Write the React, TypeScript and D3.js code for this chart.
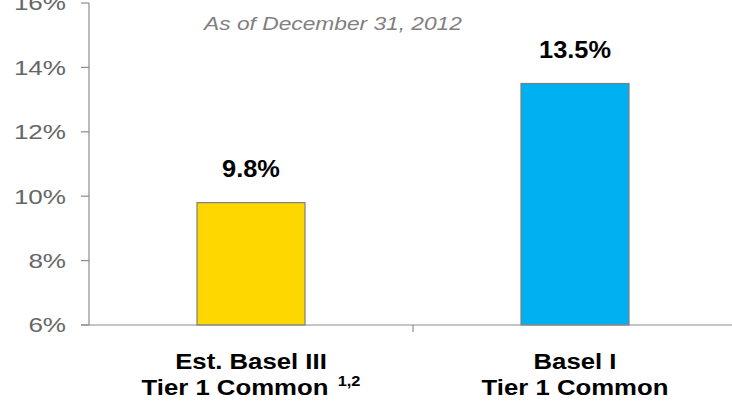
import React from "react";
import * as d3 from "d3";

const categories = ["Est. Basel III|Tier 1 Common", "Basel I|Tier 1 Common"];
const superscripts = ["1,2", ""];
const values = [9.8, 13.5];
const valueLabels = ["9.8%", "13.5%"];
const barColors = ["#FFD700", "#00B0F0"];
const yTicks = [6, 8, 10, 12, 14, 16];
const subtitle = "As of December 31, 2012";

const W = 732;
const H = 402;
const left = 89;
const right = 737;
const top = 3;
const bottom = 325;

// Text placed at (x, y) with a slight horizontal widening
function WideText({ x, y, sx, children, ...rest }: any) {
  return (
    <text transform={`translate(${x},${y}) scale(${sx},1)`} {...rest}>
      {children}
    </text>
  );
}

export default function App() {
  const y = d3.scaleLinear().domain([6, 16]).range([bottom, top]);
  const x = d3.scaleBand<number>().domain(d3.range(categories.length)).range([left, right]).padding(0);
  const barW = x.bandwidth() / 3;
  const font = "'Liberation Sans', Arial, sans-serif";
  const axisColor = "#8c8c8c";

  return (
    <svg width={W} height={H} style={{ position: "absolute", left: 0, top: 0 }} fontFamily={font}>
      <rect width={W} height={H} fill="#fff" />
      {/* y axis */}
      <line x1={left} x2={left} y1={top} y2={bottom} stroke={axisColor} strokeWidth={1.2} />
      {yTicks.map((t) => (
        <g key={t}>
          <line x1={left - 8} x2={left} y1={y(t)} y2={y(t)} stroke={axisColor} strokeWidth={1.2} />
          <WideText x={66} y={y(t) + 7.4} sx={1.27} textAnchor="end" fontSize={20.5} fill="#666">
            {t}%
          </WideText>
        </g>
      ))}
      {/* bars */}
      {values.map((v, i) => {
        const cx = (x(i) as number) + x.bandwidth() / 2;
        return (
          <g key={i}>
            <rect
              x={cx - barW / 2}
              y={y(v)}
              width={barW}
              height={bottom - y(v)}
              fill={barColors[i]}
              stroke="#7f7f7f"
              strokeWidth={1.2}
            />
            <WideText x={cx} y={y(v) - 26} sx={1.08} textAnchor="middle" fontSize={23.5} fontWeight="bold" fill="#000">
              {valueLabels[i]}
            </WideText>
          </g>
        );
      })}
      {/* x axis */}
      <line x1={left - 8} x2={right} y1={bottom} y2={bottom} stroke={axisColor} strokeWidth={1.2} />
      <line x1={x(1) as number} x2={x(1) as number} y1={bottom} y2={bottom + 7} stroke={axisColor} strokeWidth={1.2} />
      {categories.map((c, i) => {
        const cx = (x(i) as number) + x.bandwidth() / 2;
        const [l1, l2] = c.split("|");
        return (
          <g key={c} fontWeight="bold" fontSize={22} fill="#000" textAnchor="middle">
            <WideText x={cx} y={369} sx={1.17}>{l1}</WideText>
            <WideText x={cx} y={395} sx={1.17}>
              {l2}
              {superscripts[i] && (
                <tspan fontSize={14} dy={-9} dx={8}>{superscripts[i]}</tspan>
              )}
            </WideText>
          </g>
        );
      })}
      <WideText x={333} y={30} sx={1.23} textAnchor="middle" fontSize={18.5} fontStyle="italic" fill="#7f7f7f">
        {subtitle}
      </WideText>
    </svg>
  );
}
